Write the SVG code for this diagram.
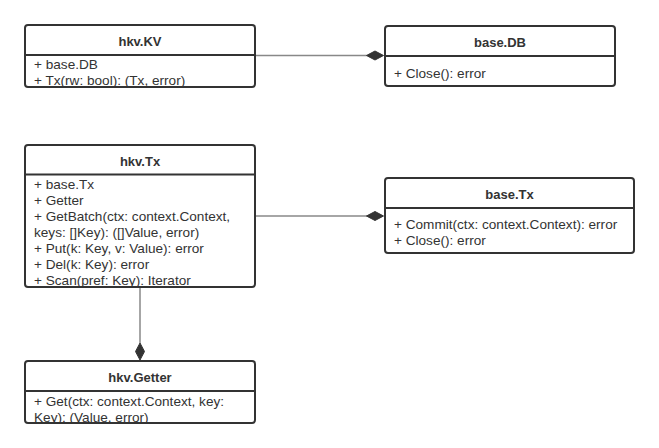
<svg xmlns="http://www.w3.org/2000/svg" width="659" height="448" viewBox="0 0 659 448">
<style>
.box{fill:#fff;stroke:#333;stroke-width:2}
.div{stroke:#333;stroke-width:2}
.title{font-family:"Liberation Sans",Arial,sans-serif;font-size:13px;font-weight:bold;fill:#333;text-anchor:middle}
.attr{font-family:"Liberation Sans",Arial,sans-serif;font-size:13.6px;fill:#333}
.conn{stroke:#888;stroke-width:1.5;fill:none}
.dia{fill:#333;stroke:#333;stroke-width:1}
</style>
<defs>
<clipPath id="cKV"><rect x="25" y="25" width="230" height="62"/></clipPath>
<clipPath id="cTx"><rect x="25" y="145" width="230" height="142"/></clipPath>
<clipPath id="cG"><rect x="25" y="361" width="230" height="62"/></clipPath>
</defs>
<rect width="659" height="448" fill="#fff"/>
<g id="connectors">
<line class="conn" x1="255" y1="55.5" x2="367" y2="55.5"/>
<polygon class="dia" points="366.5,55.5 375,51 383.5,55.5 375,60"/>
<line class="conn" x1="255" y1="216" x2="367" y2="216"/>
<polygon class="dia" points="366.5,216 375,211.5 383.5,216 375,220.5"/>
<line class="conn" x1="140" y1="287" x2="140" y2="343"/>
<polygon class="dia" points="140,343 144.5,351.5 140,360 135.5,351.5"/>
</g>
<g id="hkv-KV">
<rect class="box" x="25" y="25" width="230" height="62" rx="3"/>
<line class="div" x1="25" y1="55" x2="255" y2="55"/>
<text class="title" x="140" y="46">hkv.KV</text>
<g clip-path="url(#cKV)">
<text class="attr" x="34" y="68.5">+ base.DB</text>
<text class="attr" x="34" y="85">+ Tx(rw: bool): (Tx, error)</text>
</g>
</g>
<g id="base-DB">
<rect class="box" x="385" y="26" width="230" height="60" rx="3"/>
<line class="div" x1="385" y1="56" x2="615" y2="56"/>
<text class="title" x="500" y="47">base.DB</text>
<text class="attr" x="394" y="77.5">+ Close(): error</text>
</g>
<g id="hkv-Tx">
<rect class="box" x="25" y="145" width="230" height="142" rx="3"/>
<line class="div" x1="25" y1="174.5" x2="255" y2="174.5"/>
<text class="title" x="140" y="166">hkv.Tx</text>
<g clip-path="url(#cTx)">
<text class="attr" x="34" y="189">+ base.Tx</text>
<text class="attr" x="34" y="205">+ Getter</text>
<text class="attr" x="34" y="221">+ GetBatch(ctx: context.Context,</text>
<text class="attr" x="34" y="237">keys: []Key): ([]Value, error)</text>
<text class="attr" x="34" y="253">+ Put(k: Key, v: Value): error</text>
<text class="attr" x="34" y="269">+ Del(k: Key): error</text>
<text class="attr" x="34" y="285">+ Scan(pref: Key): Iterator</text>
</g>
</g>
<g id="base-Tx">
<rect class="box" x="385" y="178" width="249" height="75" rx="3"/>
<line class="div" x1="385" y1="208" x2="634" y2="208"/>
<text class="title" x="509.5" y="199">base.Tx</text>
<text class="attr" x="394" y="229">+ Commit(ctx: context.Context): error</text>
<text class="attr" x="394" y="245">+ Close(): error</text>
</g>
<g id="hkv-Getter">
<rect class="box" x="25" y="361" width="230" height="62" rx="3"/>
<line class="div" x1="25" y1="391" x2="255" y2="391"/>
<text class="title" x="140" y="382">hkv.Getter</text>
<g clip-path="url(#cG)">
<text class="attr" x="34" y="406">+ Get(ctx: context.Context, key:</text>
<text class="attr" x="34" y="422">Key): (Value, error)</text>
</g>
</g>
</svg>
